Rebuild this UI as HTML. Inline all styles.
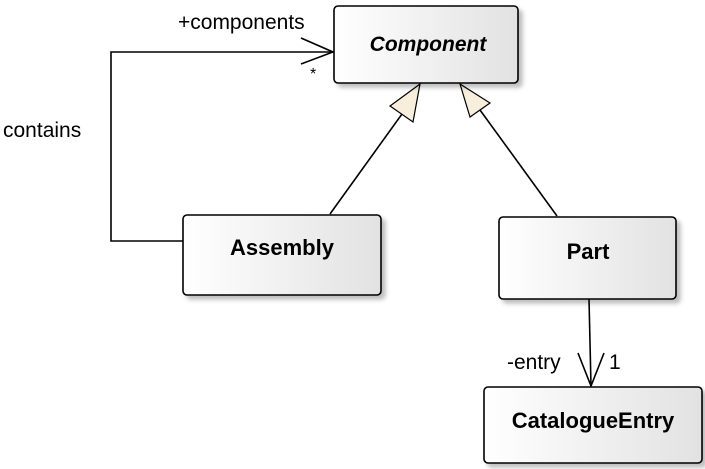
<!DOCTYPE html>
<html><head><style>body{margin:0;background:#fff}svg{display:block}text{font-family:"Liberation Sans",Arial,sans-serif}</style></head>
<body>
<svg width="705" height="469" viewBox="0 0 705 469" xmlns="http://www.w3.org/2000/svg">
<defs>
<linearGradient id="g" x1="0" y1="0" x2="1" y2="0"><stop offset="0" stop-color="#fff"/><stop offset="1" stop-color="#e2e2e2"/></linearGradient>
<filter id="s" x="-10%" y="-10%" width="130%" height="140%"><feDropShadow dx="4" dy="4" stdDeviation="2" flood-color="#000" flood-opacity="0.25"/></filter>
</defs>
<g stroke="#000" stroke-width="1.6" fill="none">
<polyline points="183,241 111,241 111,52 333,52"/>
<polyline points="301,38 333,52 301,64"/>
<line x1="330" y1="214" x2="402" y2="114"/>
<line x1="557" y1="216" x2="480" y2="110"/>
<line x1="589" y1="299" x2="591" y2="386"/>
<polyline points="578,353 591,386 604,353"/>
</g>
<g stroke="#000" stroke-width="1.2" fill="#f7eedc">
<polygon points="420,84 390,106 413,122"/>
<polygon points="460,84 470,117 490,103"/>
</g>
<g stroke="#000" stroke-width="1.6" fill="url(#g)" filter="url(#s)">
<rect x="334" y="6" width="184" height="77" rx="4"/>
<rect x="183" y="215" width="198" height="80" rx="4"/>
<rect x="499" y="217" width="177" height="82" rx="4"/>
<rect x="484" y="387" width="218" height="76" rx="4"/>
</g>
<g font-size="22" font-weight="bold" text-anchor="middle" fill="#000">
<text x="428" y="51" font-size="21" font-style="italic">Component</text>
<text x="282" y="255">Assembly</text>
<text x="588" y="259">Part</text>
<text x="593" y="428">CatalogueEntry</text>
</g>
<g font-size="21" fill="#000">
<text x="178" y="29">+components</text>
<text x="310" y="79" font-size="16">*</text>
<text x="3" y="137">contains</text>
<text x="507" y="369">-entry</text>
<text x="609" y="369">1</text>
</g>
</svg>
</body></html>
